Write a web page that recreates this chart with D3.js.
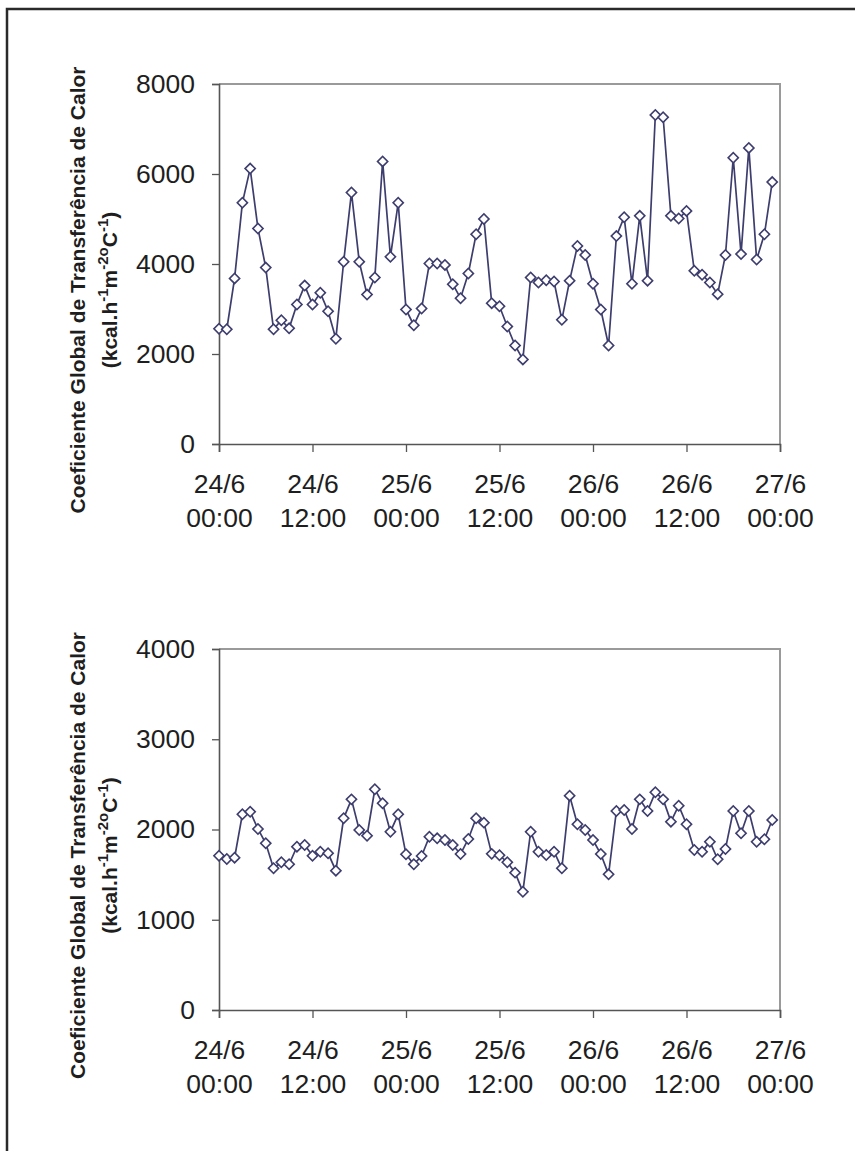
<!DOCTYPE html>
<html>
<head>
<meta charset="utf-8">
<script src="https://cdn.jsdelivr.net/npm/d3@7"></script>
<style>
  body { margin: 0; background: #fff; }
  svg { display: block; }
</style>
</head>
<body>
<div id="chart"></div>
<script>
// valores horarios, 24/6 00:00 a 26/6 23:00
var serieSuperior = [2560, 2550, 3680, 5360, 6120, 4790, 3920, 2550, 2750, 2570,
  3100, 3520, 3100, 3360, 2950, 2340, 4050, 5590, 4050, 3320,
  3700, 6280, 4160, 5360, 2990, 2640, 3010, 4010, 4010, 3980,
  3550, 3240, 3790, 4660, 5000, 3130, 3060, 2610, 2190, 1880,
  3700, 3590, 3640, 3610, 2760, 3630, 4400, 4200, 3560, 2990,
  2190, 4620, 5040, 3560, 5070, 3630, 7310, 7260, 5070, 5010,
  5180, 3850, 3760, 3590, 3330, 4200, 6360, 4220, 6580, 4100,
  4660, 5820];

var serieInferior = [1710, 1673, 1688, 2168, 2197, 2006, 1847, 1570, 1637, 1615,
  1810, 1828, 1710, 1754, 1736, 1544, 2124, 2334, 1994, 1931,
  2445, 2290, 1976, 2168, 1725, 1615, 1706, 1920, 1902, 1884,
  1828, 1728, 1895, 2124, 2076, 1730, 1715, 1637, 1522, 1311,
  1976, 1754, 1717, 1754, 1570, 2375, 2058, 1994, 1884, 1728,
  1503, 2205, 2216, 2006, 2334, 2205, 2412, 2334, 2087, 2264,
  2058, 1773, 1754, 1865, 1670, 1784, 2205, 1958, 2205, 1865,
  1891, 2105];

var ticksSuperior = [0, 2000, 4000, 6000, 8000];
var ticksInferior = [0, 1000, 2000, 3000, 4000];

var inicio = new Date(2007, 5, 24, 0, 0);
var fim = new Date(2007, 5, 27, 0, 0);

var titulo1 = "Coeficiente Global de Transferência de Calor";

var W = 855, H = 1151;
var cor = "#3d3d6e";

var svg = d3.select("#chart").append("svg")
  .attr("width", W)
  .attr("height", H);

// moldura externa
svg.append("path")
  .attr("d", "M7,1151 L7,9 L855,9")
  .attr("fill", "none")
  .attr("stroke", "#2a2a2a")
  .attr("stroke-width", 2.5);

var fmtDia = d3.timeFormat("%-d/%-m");
var fmtHora = d3.timeFormat("%H:%M");

function grafico(valores, ticks, topo, base) {
  var left = 219, right = 780;
  var x = d3.scaleTime().domain([inicio, fim]).range([left, right]);
  var y = d3.scaleLinear().domain([0, ticks[ticks.length - 1]]).range([base, topo]);

  var dados = valores.map(function(v, i) {
    return { t: d3.timeHour.offset(inicio, i), v: v };
  });

  var g = svg.append("g");

  // bordas superior e direita
  g.append("path")
    .attr("d", "M" + left + "," + topo + " L" + right + "," + topo + " L" + right + "," + base)
    .attr("fill", "none")
    .attr("stroke", "#9a9a9a")
    .attr("stroke-width", 2);

  // eixo y
  var ay = g.append("g")
    .attr("transform", "translate(" + left + ",0)")
    .call(d3.axisLeft(y).tickValues(ticks).tickSize(7).tickPadding(17).tickFormat(d3.format("d")));
  ay.selectAll("text")
    .attr("font-family", "Liberation Sans, Arial, sans-serif")
    .attr("font-size", "26.5px")
    .attr("fill", "#1e1e1e");

  // eixo x
  var ax = g.append("g")
    .attr("transform", "translate(0," + base + ")")
    .call(d3.axisBottom(x).ticks(d3.timeHour.every(12)).tickSize(8).tickFormat(""));
  ax.selectAll(".tick").append("text")
    .attr("font-family", "Liberation Sans, Arial, sans-serif")
    .attr("font-size", "26.5px")
    .attr("fill", "#1e1e1e")
    .attr("text-anchor", "middle")
    .each(function(d) {
      var t = d3.select(this);
      t.append("tspan").attr("x", 0).attr("y", 49).text(fmtDia(d));
      t.append("tspan").attr("x", 0).attr("y", 83).text(fmtHora(d));
    });

  [ax, ay].forEach(function(a) {
    a.select(".domain").attr("stroke", "#555").attr("stroke-width", 1.6);
    a.selectAll(".tick line").attr("stroke", "#555").attr("stroke-width", 1.3);
  });

  // titulo do eixo y
  var cy = (topo + base) / 2 + 26;
  g.append("text")
    .attr("transform", "translate(85," + cy + ") rotate(-90)")
    .attr("text-anchor", "middle")
    .attr("font-family", "Liberation Sans, Arial, sans-serif")
    .attr("font-weight", "bold")
    .attr("font-size", "21px")
    .attr("fill", "#1e1e1e")
    .text(titulo1);

  var t2 = g.append("text")
    .attr("transform", "translate(117," + cy + ") rotate(-90)")
    .attr("text-anchor", "middle")
    .attr("font-family", "Liberation Sans, Arial, sans-serif")
    .attr("font-weight", "bold")
    .attr("font-size", "21px")
    .attr("fill", "#1e1e1e");
  var partes = [["(kcal.h", 0], ["-1", 1], ["m", 0], ["-2o", 1], ["C", 0], ["-1", 1], [")", 0]];
  var nivel = 0;
  partes.forEach(function(p) {
    var s = t2.append("tspan").text(p[0]);
    if (p[1] !== nivel) {
      s.attr("dy", p[1] ? -9 : 9);
      nivel = p[1];
    }
    if (p[1]) s.attr("font-size", "15px");
  });

  // linha e marcadores
  var linha = d3.line()
    .x(function(d) { return x(d.t); })
    .y(function(d) { return y(d.v); });

  g.append("path")
    .datum(dados)
    .attr("d", linha)
    .attr("fill", "none")
    .attr("stroke", cor)
    .attr("stroke-width", 1.7);

  g.selectAll(".marca")
    .data(dados)
    .enter()
    .append("path")
    .attr("class", "marca")
    .attr("transform", function(d) { return "translate(" + x(d.t) + "," + y(d.v) + ") rotate(45)"; })
    .attr("d", d3.symbol().type(d3.symbolSquare).size(52))
    .attr("fill", "#fff")
    .attr("stroke", cor)
    .attr("stroke-width", 1.6);
}

grafico(serieSuperior, ticksSuperior, 84, 444);
grafico(serieInferior, ticksInferior, 649, 1010);
</script>
</body>
</html>
